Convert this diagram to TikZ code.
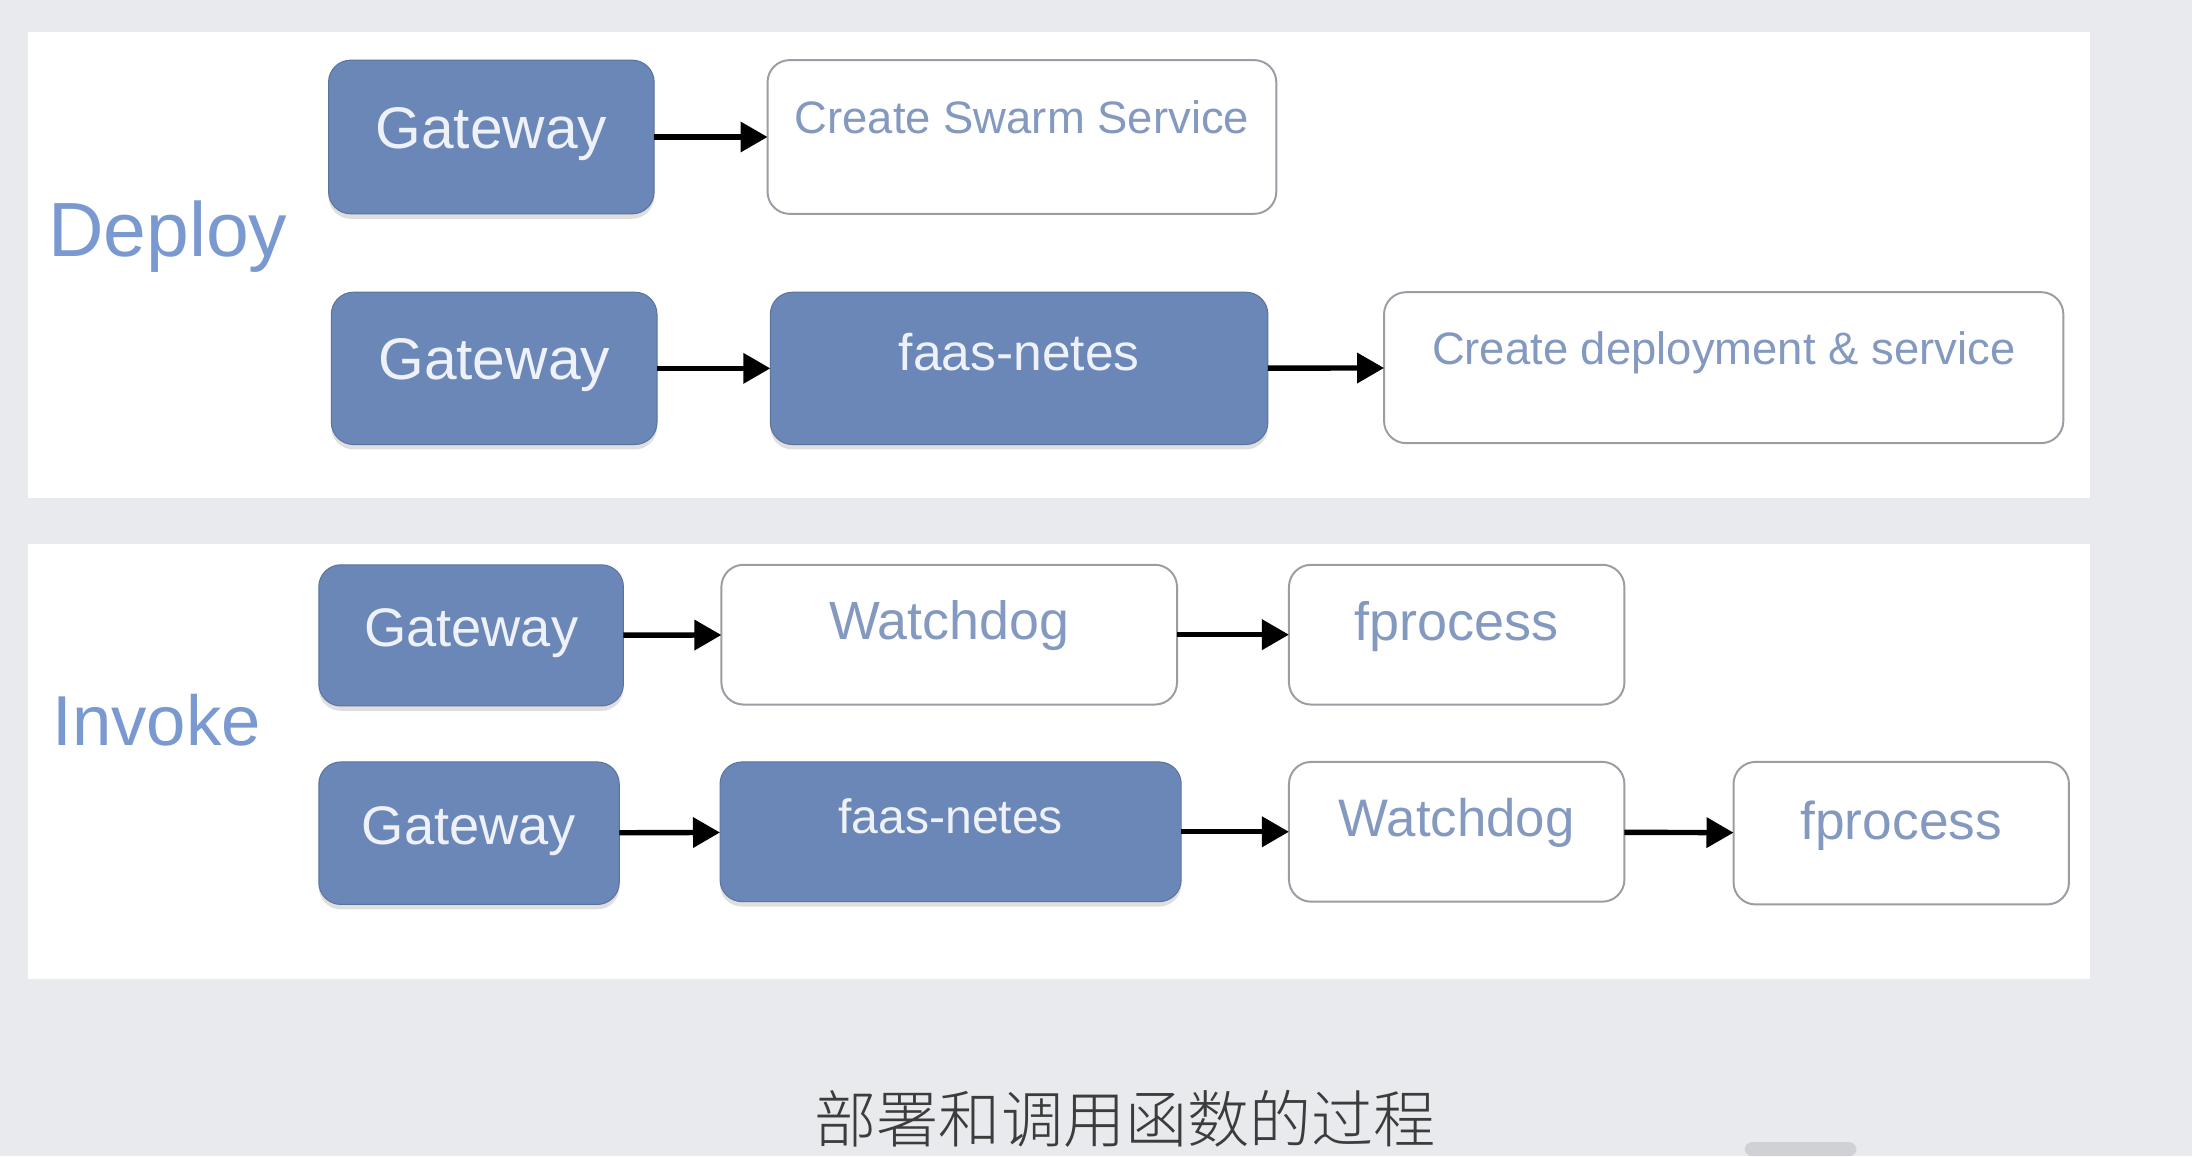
\documentclass[tikz,border=0pt]{standalone}
\usepackage{fontspec}
\setmainfont{Liberation Sans}
\newfontfamily\cjk{Noto Sans CJK SC Light}
\usetikzlibrary{arrows.meta,shadows}
\definecolor{bggray}{HTML}{E8EAED}
\definecolor{blockblue}{HTML}{6A87B7}
\definecolor{blocktext}{HTML}{EEF2F8}
\definecolor{boxline}{HTML}{9A9DA3}
\definecolor{boxtext}{HTML}{8499C0}
\definecolor{labelblue}{HTML}{7A99D0}
\definecolor{captiongray}{HTML}{3C3C3C}
\definecolor{tabgray}{HTML}{CFD1D5}
\newcommand\fsz[1]{\fontsize{#1}{#1}\selectfont}

\begin{document}
\begin{tikzpicture}[x=0.02cm,y=-0.02cm,>={Triangle[length=11pt,width=12pt]}]
\tikzstyle{blk}=[fill=blockblue,draw=blockblue!85!black,line width=0.4pt,rounded corners=9pt,text=blocktext,inner sep=0pt,outer sep=0pt,text height=0.9em,text depth=0em,drop shadow={shadow xshift=0pt,shadow yshift=-2pt,opacity=0.25}]
\tikzstyle{wbox}=[fill=white,draw=boxline,line width=0.8pt,rounded corners=9pt,text=boxtext,inner sep=0pt,outer sep=0pt,text height=0.75em,text depth=0.35em]
\tikzstyle{lbl}=[text=labelblue]
\tikzstyle{ar}=[->,line width=2.2pt]
% background and panels
\fill[bggray] (0,0) rectangle (1568,827);
\fill[white] (20,23) rectangle (1495,356);
\fill[white] (20,389) rectangle (1495,700);
\fill[tabgray,rounded corners=3pt] (1248,817) rectangle (1328,827);
% deploy
\node[lbl,font=\fsz{31.3}] (dep) at (120,169) {Deploy};
\node[blk,minimum width=4.66cm,minimum height=2.2cm,font=\fsz{23.9}] (gd1) at (351.5,98) {Gateway};
\node[wbox,minimum width=7.28cm,minimum height=2.2cm,font=\fsz{18.5},text depth=1em] (sw) at (731,98) {Create Swarm Service};
\node[blk,minimum width=4.66cm,minimum height=2.18cm,font=\fsz{23.9}] (gd2) at (353.5,263.5) {Gateway};
\node[blk,minimum width=7.12cm,minimum height=2.18cm,font=\fsz{21},text height=0.75em,text depth=0.6em] (fn1) at (729,263.5) {faas-netes};
\node[wbox,minimum width=9.72cm,minimum height=2.16cm,font=\fsz{18.5},text depth=1em] (cd) at (1233,263) {Create deployment \& service};
\draw[ar] (gd1) -- (sw);
\draw[ar] (gd2) -- (fn1);
\draw[ar] (fn1) -- (cd);
% invoke
\node[lbl,font=\fsz{28.8}] (inv) at (112,515) {Invoke};
\node[blk,minimum width=4.36cm,minimum height=2.02cm,font=\fsz{22.1}] (gi1) at (337,454.5) {Gateway};
\node[wbox,minimum width=6.52cm,minimum height=2cm,font=\fsz{21.9}] (wd1) at (679,454) {Watchdog};
\node[wbox,minimum width=4.8cm,minimum height=2cm,font=\fsz{22},text depth=0.3em] (fp1) at (1042,454) {fprocess};
\node[blk,minimum width=4.3cm,minimum height=2.04cm,font=\fsz{22.1}] (gi2) at (335.5,596) {Gateway};
\node[blk,minimum width=6.6cm,minimum height=2cm,font=\fsz{19.6},text height=0.75em,text depth=0.6em] (fn2) at (680,595) {faas-netes};
\node[wbox,minimum width=4.8cm,minimum height=2cm,font=\fsz{21.5}] (wd2) at (1042,595) {Watchdog};
\node[wbox,minimum width=4.8cm,minimum height=2.04cm,font=\fsz{21.7},text depth=0.25em] (fp2) at (1360,596) {fprocess};
\draw[ar] (gi1) -- (wd1);
\draw[ar] (wd1) -- (fp1);
\draw[ar] (gi2) -- (fn2);
\draw[ar] (fn2) -- (wd2);
\draw[ar] (wd2) -- (fp2);
% caption
\node[text=captiongray,font=\cjk\fsz{25.3}] (cap) at (805,800) {部署和调用函数的过程};
\end{tikzpicture}
\end{document}
